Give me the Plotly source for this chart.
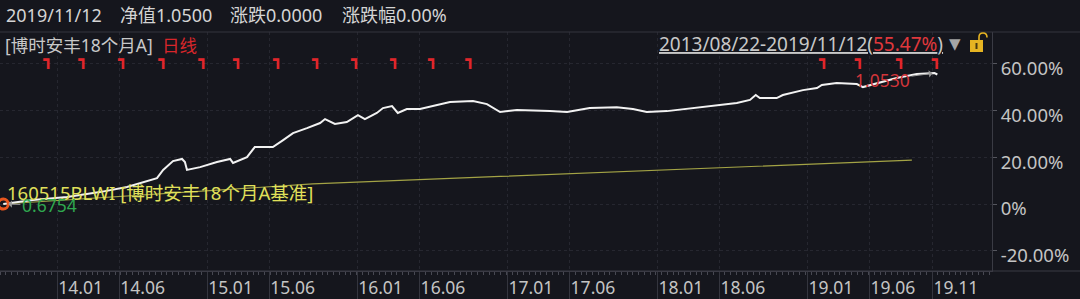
import plotly.graph_objects as go

# ---------------- data ----------------
nav_dates = [
    "2013-08-22", "2013-09-07", "2013-11-02", "2014-01-24", "2014-04-14", "2014-06-19",
    "2014-07-21", "2014-08-31", "2014-09-15", "2014-09-27", "2014-10-09", "2014-10-31",
    "2014-11-07", "2014-11-12", "2014-12-14", "2015-01-24", "2015-02-25", "2015-03-04",
    "2015-04-07", "2015-04-26", "2015-06-09", "2015-07-04", "2015-07-28", "2015-08-31",
    "2015-10-02", "2015-10-14", "2015-11-07", "2015-12-06", "2016-01-02", "2016-01-19",
    "2016-02-17", "2016-03-03", "2016-03-25", "2016-04-08", "2016-04-30", "2016-06-01",
    "2016-07-02", "2016-08-13", "2016-10-08", "2016-11-11", "2016-12-13", "2017-01-23",
    "2017-04-13", "2017-05-25", "2017-07-19", "2017-09-23", "2017-11-01", "2017-12-05",
    "2018-01-23", "2018-04-13", "2018-07-12", "2018-08-13", "2018-08-27", "2018-09-06",
    "2018-10-17", "2018-11-01", "2018-12-20", "2019-01-23", "2019-02-04", "2019-03-12",
    "2019-04-30", "2019-05-15", "2019-06-18", "2019-08-05", "2019-09-23", "2019-11-05",
    "2019-11-12",
]
nav_pct = [
    0.0, 0.4, 1.7, 3.0, 5.1, 7.3,
    9.0, 11.1, 14.6, 16.7, 18.4, 19.3,
    18.0, 14.6, 15.8, 18.0, 19.3, 17.6,
    20.1, 24.4, 24.4, 27.4, 30.4, 32.5,
    34.7, 36.4, 34.3, 35.1, 38.1, 36.4,
    39.0, 41.1, 42.0, 39.0, 40.7, 40.7,
    42.0, 43.7, 44.1, 42.8, 39.4, 40.3,
    39.8, 39.4, 41.1, 41.5, 40.7, 39.4,
    39.8, 41.5, 43.3, 44.6, 46.7, 45.4,
    45.4, 46.7, 48.8, 49.7, 51.0, 51.8,
    51.4, 50.1, 51.8, 54.0, 55.7, 56.1,
    55.5,
]

bench_dates = ["2013-08-22", "2015-09-14", "2016-12-13", "2019-09-11"]
bench_pct = [0.0, 8.6, 11.8, 18.8]

dividend_dates = [
    "2013-12-09", "2014-03-04", "2014-06-09", "2014-09-15", "2014-12-21", "2015-03-16",
    "2015-06-21", "2015-09-24", "2015-12-28", "2016-04-01", "2016-07-02", "2016-10-01",
    "2019-02-09", "2019-05-07", "2019-08-15", "2019-11-10",
]
dividend_level = 61.3

x_tick_dates = ["2014-01-01", "2014-06-01", "2015-01-01", "2015-06-01", "2016-01-01",
                "2016-06-01", "2017-01-01", "2017-06-01", "2018-01-01", "2018-06-01",
                "2019-01-01", "2019-06-01", "2019-11-01"]
x_tick_text = ["14.01", "14.06", "15.01", "15.06", "16.01", "16.06", "17.01", "17.06",
               "18.01", "18.06", "19.01", "19.06", "19.11"]
y_tick_vals = [-20, 0, 20, 40, 60]
y_tick_text = ["-20.00%", "0%", "20.00%", "40.00%", "60.00%"]

header_items = ["2019/11/12", "净值1.0500", "涨跌0.0000", "涨跌幅0.00%"]
fund_name = "[博时安丰18个月A]"
period_label = "日线"
range_text = "2013/08/22-2019/11/12("
range_return = "55.47%"
bench_label = "160515BLWI [博时安丰18个月A基准]"
max_label = "1.0530"
min_label = "0.6754"

# ---------------- style ----------------
BG = "#15161d"
FONT = "Noto Sans, Noto Sans CJK SC, sans-serif"
W, H = 1080, 299
ML, MR, MT, MB = 0, 88, 32, 28
PW, PH = W - ML - MR, H - MT - MB


def PX(x):
    return (x - ML) / PW


def PY(y):
    return (H - MB - y) / PH


fig = go.Figure()

fig.add_trace(go.Scatter(x=bench_dates, y=bench_pct, mode="lines",
                         line=dict(color="#a3a345", width=1.2), hoverinfo="skip"))
fig.add_trace(go.Scatter(x=nav_dates, y=nav_pct, mode="lines",
                         line=dict(color="#f2f2f2", width=2), hoverinfo="skip"))
fig.add_trace(go.Scatter(x=[nav_dates[0]], y=[nav_pct[0]], mode="markers",
                         marker=dict(symbol="circle-open", size=10, color="#e8561e",
                                     line=dict(width=3, color="#e8561e")),
                         hoverinfo="skip"))
fig.add_trace(go.Scatter(x=dividend_dates, y=[dividend_level] * len(dividend_dates),
                         mode="text", text=["<b>┓</b>"] * len(dividend_dates),
                         textfont=dict(family="DejaVu Sans", size=16, color="#e0262b"),
                         hoverinfo="skip"))

ann = []
hx = [4, 118, 228, 340]
for t, x in zip(header_items, hx):
    ann.append(dict(text=t, x=PX(x), y=PY(15), xref="paper", yref="paper",
                    xanchor="left", yanchor="middle", showarrow=False,
                    font=dict(size=18, color="#d4d4d4", family=FONT)))
ann.append(dict(text=fund_name, x=PX(3), y=PY(45), xref="paper", yref="paper",
                xanchor="left", yanchor="middle", showarrow=False,
                font=dict(size=17.5, color="#c8c8c8", family=FONT)))
ann.append(dict(text=period_label, x=PX(160), y=PY(45), xref="paper", yref="paper",
                xanchor="left", yanchor="middle", showarrow=False,
                font=dict(size=17.5, color="#d8262b", family=FONT)))
ann.append(dict(text="<u>" + range_text + "<span style='color:#e0383c'>" + range_return
                + "</span>)</u>",
                x=PX(945), y=PY(44), xref="paper", yref="paper",
                xanchor="right", yanchor="middle", showarrow=False,
                font=dict(size=19, color="#c8c8c8", family=FONT)))
ann.append(dict(text="▼", x=PX(955), y=PY(44), xref="paper", yref="paper",
                xanchor="center", yanchor="middle", showarrow=False,
                font=dict(size=15, color="#a5a5a5", family="DejaVu Sans")))
ann.append(dict(text=bench_label, x=PX(5), y=PY(193), xref="paper", yref="paper",
                xanchor="left", yanchor="middle", showarrow=False,
                font=dict(size=18.5, color="#e0e05a", family=FONT)))
imax = nav_pct.index(max(nav_pct))
ann.append(dict(text=max_label, x=nav_dates[imax], y=nav_pct[imax], xref="x", yref="y",
                ax=-52, ay=7, showarrow=True, arrowhead=1, arrowsize=1.2, arrowwidth=1,
                arrowcolor="#9a9a9a", standoff=2,
                font=dict(size=17.5, color="#d0353a", family=FONT)))
ann.append(dict(text=min_label, x=nav_dates[0], y=nav_pct[0], xref="x", yref="y",
                ax=46, ay=1, showarrow=True, arrowhead=1, arrowsize=1.2, arrowwidth=1,
                arrowcolor="#9a9a9a", standoff=5,
                font=dict(size=17.5, color="#2fa84f", family=FONT)))

shapes = [
    dict(type="line", xref="paper", yref="paper", x0=0, x1=W / PW, y0=1, y1=1,
         line=dict(color="#34353e", width=1)),
    dict(type="line", xref="paper", yref="paper", x0=0, x1=W / PW, y0=0, y1=0,
         line=dict(color="#3a3b44", width=1)),
    # lock icon
    dict(type="rect", xref="paper", yref="paper", x0=PX(970), x1=PX(983), y0=PY(52), y1=PY(40),
         fillcolor="#e6b422", line=dict(width=0)),
    dict(type="rect", xref="paper", yref="paper", x0=PX(975.5), x1=PX(977.5), y0=PY(49), y1=PY(43),
         fillcolor="#4a3a10", line=dict(width=0)),
    dict(type="path", xref="paper", yref="paper",
         path="M %f %f L %f %f Q %f %f %f %f Q %f %f %f %f" % (
             PX(979), PY(40), PX(979), PY(37), PX(979), PY(33), PX(983), PY(33),
             PX(987), PY(33), PX(987), PY(37.5)),
         line=dict(color="#e6b422", width=1.6)),
]

fig.update_layout(
    width=W, height=H,
    margin=dict(l=ML, r=MR, t=MT, b=MB, pad=0),
    paper_bgcolor=BG, plot_bgcolor=BG,
    showlegend=False,
    annotations=ann, shapes=shapes,
    font=dict(family=FONT, color="#c4c4c4"),
    xaxis=dict(type="date", range=["2013-08-14", "2020-03-24"],
               tickmode="array", tickvals=x_tick_dates, ticktext=x_tick_text,
               ticks="outside", ticklen=28, tickwidth=1, tickcolor="#34353e",
               showgrid=True, gridcolor="#262730", griddash="dot", gridwidth=1,
               showline=True, linecolor="#3a3b44", zeroline=False,
               tickfont=dict(size=17.5, color="#c4c4c4", family=FONT),
               ticklabelshift=23, ticklabelstandoff=-27,
               minor=dict(ticks="outside", ticklen=3, tickcolor="#474852",
                          dtick=14 * 86400000, tick0="2013-08-14", showgrid=False),
               fixedrange=True),
    yaxis=dict(side="right", range=[-28.7, 73.7],
               tickmode="array", tickvals=y_tick_vals, ticktext=y_tick_text,
               ticks="outside", ticklen=4, tickcolor="#55565e",
               showgrid=True, gridcolor="#262730", griddash="dot", gridwidth=1,
               showline=True, linecolor="#3a3b44", zeroline=False,
               tickfont=dict(size=18.5, color="#c4c4c4", family=FONT),
               ticklabelshift=5, fixedrange=True),
)

fig.write_html("out.html")
